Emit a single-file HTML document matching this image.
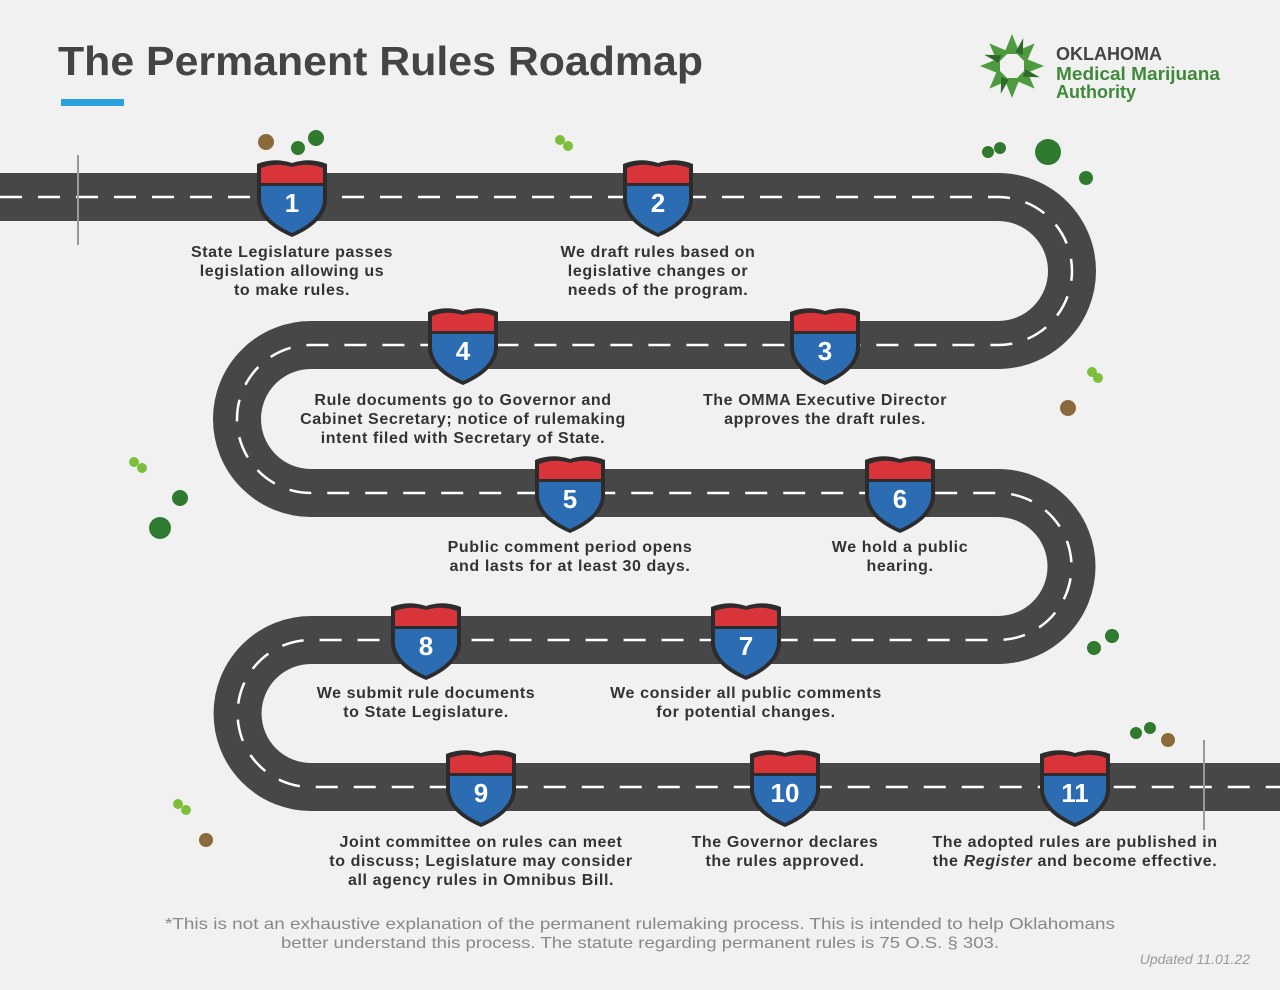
<!DOCTYPE html>
<html><head><meta charset="utf-8"><style>
body{margin:0;background:#f1f1f1;font-family:"Liberation Sans",sans-serif;}
svg{display:block}
.l{font-family:"Liberation Sans",sans-serif;font-size:16px;font-weight:bold;fill:#333;text-anchor:middle;letter-spacing:0.6px}
.n{font-family:"Liberation Sans",sans-serif;font-size:26px;font-weight:bold;fill:#fff;text-anchor:middle}
</style></head><body>
<svg width="1280" height="990" viewBox="0 0 1280 990">
<rect width="1280" height="990" fill="#f1f1f1"/>
<text x="58" y="75" font-size="41" font-weight="bold" fill="#444" font-family="Liberation Sans" textLength="645" lengthAdjust="spacingAndGlyphs">The Permanent Rules Roadmap</text>
<rect x="61" y="99" width="63" height="7" fill="#2aa0dc"/>
<g transform="translate(1012,66)">
<g fill="#4e9a3e">
<polygon points="0,-32 8,-12 -8,-12"/><polygon points="0,-32 8,-12 -8,-12" transform="rotate(45)"/><polygon points="0,-32 8,-12 -8,-12" transform="rotate(90)"/><polygon points="0,-32 8,-12 -8,-12" transform="rotate(135)"/><polygon points="0,-32 8,-12 -8,-12" transform="rotate(180)"/><polygon points="0,-32 8,-12 -8,-12" transform="rotate(225)"/><polygon points="0,-32 8,-12 -8,-12" transform="rotate(270)"/><polygon points="0,-32 8,-12 -8,-12" transform="rotate(315)"/>
</g>
<g fill="#2e6b2a">
<polygon points="0,-30 6,-14 -2,-14" transform="rotate(22)"/><polygon points="0,-30 6,-14 -2,-14" transform="rotate(112)"/><polygon points="0,-30 6,-14 -2,-14" transform="rotate(202)"/><polygon points="0,-30 6,-14 -2,-14" transform="rotate(292)"/>
</g>
</g>
<text x="1056" y="60" font-size="18" font-weight="bold" fill="#444" font-family="Liberation Sans">OKLAHOMA</text>
<text x="1056" y="80" font-size="18" font-weight="bold" fill="#3f8a3a" font-family="Liberation Sans" textLength="164" lengthAdjust="spacingAndGlyphs">Medical Marijuana</text>
<text x="1056" y="98" font-size="18" font-weight="bold" fill="#3f8a3a" font-family="Liberation Sans">Authority</text>
<path d="M0,197 H998 A74,74 0 0 1 998,345 H311 A74,74 0 0 0 311,493 H998 A73.5,73.5 0 0 1 998,640 H311 A73.5,73.5 0 0 0 311,787 H1280" fill="none" stroke="#474747" stroke-width="48"/>
<path d="M0,197 H998 A74,74 0 0 1 998,345 H311 A74,74 0 0 0 311,493 H998 A73.5,73.5 0 0 1 998,640 H311 A73.5,73.5 0 0 0 311,787 H1280" fill="none" stroke="#fff" stroke-width="2.5" stroke-dasharray="22,16"/>
<line x1="78" y1="155" x2="78" y2="245" stroke="#999" stroke-width="2"/>
<line x1="1204" y1="740" x2="1204" y2="830" stroke="#999" stroke-width="2"/>
<g fill="#2f7a2f">
<circle cx="316" cy="138" r="8"/><circle cx="298" cy="148" r="7"/><circle cx="1048" cy="152" r="13"/><circle cx="988" cy="152" r="6"/><circle cx="1000" cy="148" r="6"/><circle cx="1086" cy="178" r="7"/><circle cx="180" cy="498" r="8"/><circle cx="160" cy="528" r="11"/><circle cx="1112" cy="636" r="7"/><circle cx="1094" cy="648" r="7"/><circle cx="1136" cy="733" r="6"/><circle cx="1150" cy="728" r="6"/>
</g>
<g fill="#7cbf3a">
<circle cx="560" cy="140" r="5"/><circle cx="568" cy="146" r="5"/><circle cx="1092" cy="372" r="5"/><circle cx="1098" cy="378" r="5"/><circle cx="134" cy="462" r="5"/><circle cx="142" cy="468" r="5"/><circle cx="178" cy="804" r="5"/><circle cx="186" cy="810" r="5"/>
</g>
<g fill="#8a6a3a"><circle cx="266" cy="142" r="8"/><circle cx="1068" cy="408" r="8"/><circle cx="1168" cy="740" r="7"/><circle cx="206" cy="840" r="7"/></g>
<defs>
<g id="sh">
<path d="M-35,-33 Q-18,-40 0,-34 Q18,-40 35,-33 L35,4 Q33,26 0,40 Q-33,26 -35,4 Z" fill="#2c2c2c"/>
<path d="M-31,-29 Q-16,-35 0,-30 Q16,-35 31,-29 L31,-14 L-31,-14 Z" fill="#d9343a"/>
<path d="M-31,-11 L31,-11 L31,4 Q29,23 0,36 Q-29,23 -31,4 Z" fill="#2b6cb3"/>
</g>
</defs>
<use href="#sh" x="292" y="197"/><text class="n" x="292" y="212">1</text>
<use href="#sh" x="658" y="197"/><text class="n" x="658" y="212">2</text>
<use href="#sh" x="825" y="345"/><text class="n" x="825" y="360">3</text>
<use href="#sh" x="463" y="345"/><text class="n" x="463" y="360">4</text>
<use href="#sh" x="570" y="493"/><text class="n" x="570" y="508">5</text>
<use href="#sh" x="900" y="493"/><text class="n" x="900" y="508">6</text>
<use href="#sh" x="746" y="640"/><text class="n" x="746" y="655">7</text>
<use href="#sh" x="426" y="640"/><text class="n" x="426" y="655">8</text>
<use href="#sh" x="481" y="787"/><text class="n" x="481" y="802">9</text>
<use href="#sh" x="785" y="787"/><text class="n" x="785" y="802">10</text>
<use href="#sh" x="1075" y="787"/><text class="n" x="1075" y="802">11</text>
<text class="l" x="292" y="257">State Legislature passes</text><text class="l" x="292" y="276">legislation allowing us</text><text class="l" x="292" y="295">to make rules.</text>
<text class="l" x="658" y="257">We draft rules based on</text><text class="l" x="658" y="276">legislative changes or</text><text class="l" x="658" y="295">needs of the program.</text>
<text class="l" x="825" y="405">The OMMA Executive Director</text><text class="l" x="825" y="424">approves the draft rules.</text>
<text class="l" x="463" y="405">Rule documents go to Governor and</text><text class="l" x="463" y="424">Cabinet Secretary; notice of rulemaking</text><text class="l" x="463" y="443">intent filed with Secretary of State.</text>
<text class="l" x="570" y="552">Public comment period opens</text><text class="l" x="570" y="571">and lasts for at least 30 days.</text>
<text class="l" x="900" y="552">We hold a public</text><text class="l" x="900" y="571">hearing.</text>
<text class="l" x="746" y="698">We consider all public comments</text><text class="l" x="746" y="717">for potential changes.</text>
<text class="l" x="426" y="698">We submit rule documents</text><text class="l" x="426" y="717">to State Legislature.</text>
<text class="l" x="481" y="847">Joint committee on rules can meet</text><text class="l" x="481" y="866">to discuss; Legislature may consider</text><text class="l" x="481" y="885">all agency rules in Omnibus Bill.</text>
<text class="l" x="785" y="847">The Governor declares</text><text class="l" x="785" y="866">the rules approved.</text>
<text class="l" x="1075" y="847">The adopted rules are published in</text><text class="l" x="1075" y="866">the <tspan font-style="italic">Register</tspan> and become effective.</text>
<text x="165" y="929" font-size="16" fill="#888" font-family="Liberation Sans" textLength="950" lengthAdjust="spacingAndGlyphs">*This is not an exhaustive explanation of the permanent rulemaking process. This is intended to help Oklahomans</text>
<text x="281" y="948" font-size="16" fill="#888" font-family="Liberation Sans" textLength="718" lengthAdjust="spacingAndGlyphs">better understand this process. The statute regarding permanent rules is 75 O.S. § 303.</text>
<text x="1250" y="964" font-size="14" fill="#999" font-style="italic" text-anchor="end" font-family="Liberation Sans">Updated 11.01.22</text>
</svg>
</body></html>
